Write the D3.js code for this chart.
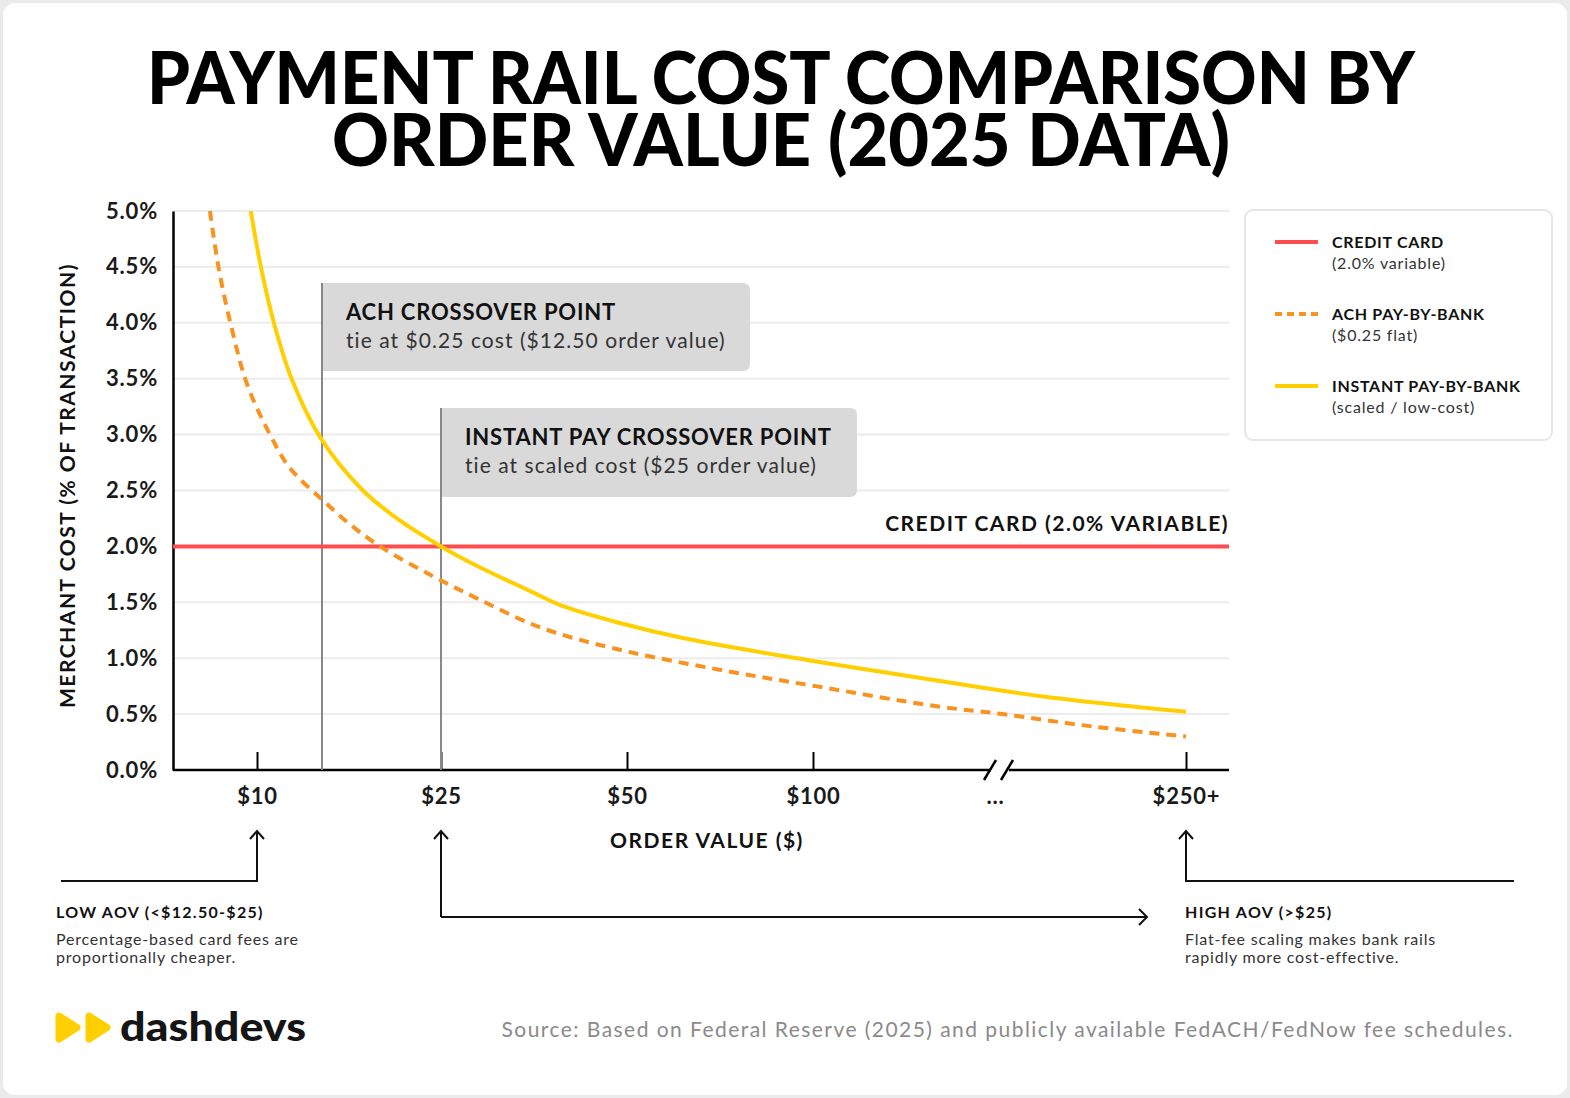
<!DOCTYPE html>
<html lang="en">
<head>
<meta charset="UTF-8">
<title>Payment Rail Cost Comparison by Order Value</title>
<style>
  html, body { margin: 0; padding: 0; background: #ebebeb; }
  svg { display: block; }
</style>
<script src="https://d3js.org/d3.v7.min.js"></script>
</head>
<body>
<script>
const WIDTH = 1570, HEIGHT = 1098;
const FONT = "Lato, 'Open Sans', sans-serif";

// order value ($) -> merchant cost (% of transaction)
const creditCardRate = 2.0;
const achOrderValues = [8.19, 8.54, 9.08, 9.62, 10.5, 11.27, 12.5, 15.4, 18.6, 24, 30, 37, 41.8, 50, 76, 101, 151, 178, 213, 250];
const achCost        = [5.0, 4.47, 3.9, 3.45, 3.0, 2.7, 2.42, 2.2, 2.0, 1.74, 1.53, 1.31, 1.2, 1.06, 0.89, 0.75, 0.57, 0.5, 0.39, 0.3];
const instantOrderValues = [9.76, 10.15, 10.65, 11.33, 12.5, 16.8, 20.7, 25, 30, 37, 41.2, 49.3, 65, 100, 151, 193, 250];
const instantCost        = [5.0, 4.5, 4.0, 3.5, 2.95, 2.5, 2.23, 2.0, 1.82, 1.6, 1.47, 1.31, 1.18, 0.975, 0.8, 0.66, 0.52];

const xTickValues = [10, 25, 50, 100, 175, 250];
const xTickLabels = ["$10", "$25", "$50", "$100", "...", "$250+"];
const yTickValues = [0, 0.5, 1, 1.5, 2, 2.5, 3, 3.5, 4, 4.5, 5];

const crossovers = [
  { value: 12.5, title: "ACH CROSSOVER POINT", sub: "tie at $0.25 cost ($12.50 order value)" },
  { value: 25, title: "INSTANT PAY CROSSOVER POINT", sub: "tie at scaled cost ($25 order value)" }
];

const legendNames = ["CREDIT CARD", "ACH PAY-BY-BANK", "INSTANT PAY-BY-BANK"];
const legendNotes = ["(2.0% variable)", "($0.25 flat)", "(scaled / low-cost)"];

const RED = "#ff4d4f", ORANGE = "#f7931e", YELLOW = "#ffcf00";
const legendColors = [RED, ORANGE, YELLOW];
const legendDash = [null, "7,5", null];

// plot box
const PLOT = { left: 173, right: 1229, top: 211, bottom: 770 };

// the order-value axis is not linear: evenly spaced ticks plus a break before $250+
const x = d3.scaleLinear()
  .domain([10, 12.5, 25, 50, 100, 175, 250])
  .range([257, 322, 441, 627, 813, 995, 1186]);
const y = d3.scaleLinear().domain([0, 5]).range([PLOT.bottom, PLOT.top]);

const svg = d3.select("body").append("svg")
  .attr("width", WIDTH)
  .attr("height", HEIGHT)
  .style("font-family", FONT);

svg.append("rect")
  .attr("x", 3).attr("y", 3)
  .attr("width", WIDTH - 6).attr("height", HEIGHT - 6)
  .attr("rx", 12)
  .attr("fill", "#fff");

// title
const titleLines = ["PAYMENT RAIL COST COMPARISON BY", "ORDER VALUE (2025 DATA)"];
const titleWidths = [1268, 898];
svg.selectAll("text.title")
  .data(titleLines)
  .enter().append("text")
  .attr("class", "title")
  .attr("x", 781)
  .attr("y", (d, i) => 104 + i * 62)
  .attr("text-anchor", "middle")
  .attr("font-size", 72)
  .attr("font-weight", 900)
  .attr("fill", "#000")
  .attr("textLength", (d, i) => titleWidths[i])
  .attr("lengthAdjust", "spacingAndGlyphs")
  .text(d => d);

// gridlines
svg.append("g")
  .selectAll("line")
  .data(yTickValues.filter(d => d > 0))
  .enter().append("line")
  .attr("x1", PLOT.left).attr("x2", PLOT.right)
  .attr("y1", d => y(d)).attr("y2", d => y(d))
  .attr("stroke", "#ececec")
  .attr("stroke-width", 2);

// y axis
const yAxis = svg.append("g")
  .attr("transform", `translate(${PLOT.left},0)`)
  .call(d3.axisLeft(y)
    .tickValues(yTickValues)
    .tickFormat(d => d.toFixed(1) + "%")
    .tickSizeInner(0)
    .tickSizeOuter(0)
    .tickPadding(15));
yAxis.select(".domain").attr("stroke", "#000").attr("stroke-width", 2.5);
yAxis.selectAll("text")
  .attr("font-family", FONT)
  .attr("font-size", 22)
  .attr("font-weight", 700)
  .attr("letter-spacing", 0.8)
  .attr("fill", "#1a1a1a");

// x axis
const xAxis = svg.append("g")
  .attr("transform", `translate(0,${PLOT.bottom})`)
  .call(d3.axisBottom(x)
    .tickValues(xTickValues)
    .tickFormat((d, i) => xTickLabels[i])
    .tickSizeInner(-18)
    .tickSizeOuter(0)
    .tickPadding(18));
xAxis.select(".domain").remove();
xAxis.selectAll(".tick line")
  .attr("stroke", "#000")
  .attr("stroke-width", 2)
  .attr("display", d => d === 175 ? "none" : null);
xAxis.selectAll("text")
  .attr("font-family", FONT)
  .attr("font-size", 22)
  .attr("font-weight", 700)
  .attr("letter-spacing", 0.8)
  .attr("fill", "#1a1a1a");

// x axis line with a break mark
const breakX = x(175);
const axisLine = svg.append("g").attr("stroke", "#000").attr("stroke-width", 2.5);
axisLine.append("line")
  .attr("x1", PLOT.left).attr("x2", breakX - 4)
  .attr("y1", PLOT.bottom).attr("y2", PLOT.bottom);
axisLine.append("line")
  .attr("x1", breakX + 14).attr("x2", PLOT.right)
  .attr("y1", PLOT.bottom).attr("y2", PLOT.bottom);
[-5, 12].forEach(dx => {
  axisLine.append("line")
    .attr("x1", breakX + dx - 6).attr("y1", PLOT.bottom + 10)
    .attr("x2", breakX + dx + 6).attr("y2", PLOT.bottom - 10);
});

// axis titles
svg.append("text")
  .attr("x", 707).attr("y", 848)
  .attr("text-anchor", "middle")
  .attr("font-size", 21).attr("font-weight", 700)
  .attr("letter-spacing", 1.5)
  .attr("fill", "#111")
  .text("ORDER VALUE ($)");
svg.append("text")
  .attr("transform", `translate(75,${(PLOT.top + PLOT.bottom) / 2 - 5}) rotate(-90)`)
  .attr("text-anchor", "middle")
  .attr("font-size", 21).attr("font-weight", 700)
  .attr("letter-spacing", 1.5)
  .attr("fill", "#111")
  .text("MERCHANT COST (% OF TRANSACTION)");

// crossover markers
const boxGeom = [
  { top: 283, h: 88, w: 428 },
  { top: 408, h: 89, w: 416 }
];
const cross = svg.append("g");
crossovers.forEach((c, i) => {
  const g = boxGeom[i];
  const x0 = x(c.value), r = 7;
  cross.append("path")
    .attr("d", `M${x0},${g.top} H${x0 + g.w - r} Q${x0 + g.w},${g.top} ${x0 + g.w},${g.top + r}
      V${g.top + g.h - r} Q${x0 + g.w},${g.top + g.h} ${x0 + g.w - r},${g.top + g.h} H${x0} Z`)
    .attr("fill", "#d9d9d9");
  cross.append("line")
    .attr("x1", x0).attr("x2", x0)
    .attr("y1", g.top).attr("y2", PLOT.bottom)
    .attr("stroke", "#888").attr("stroke-width", 2);
  cross.append("text")
    .attr("x", x0 + 24).attr("y", g.top + 37)
    .attr("font-size", 22).attr("font-weight", 700)
    .attr("letter-spacing", 0.8)
    .attr("fill", "#111")
    .text(c.title);
  cross.append("text")
    .attr("x", x0 + 24).attr("y", g.top + 65)
    .attr("font-size", 21)
    .attr("letter-spacing", 1.05)
    .attr("fill", "#333")
    .text(c.sub);
});

// series
const line = d3.line()
  .x(d => x(d[0]))
  .y(d => y(d[1]))
  .curve(d3.curveCatmullRom.alpha(0.5));

svg.append("line")
  .attr("x1", PLOT.left).attr("x2", PLOT.right)
  .attr("y1", y(creditCardRate)).attr("y2", y(creditCardRate))
  .attr("stroke", RED).attr("stroke-width", 4);

svg.append("path")
  .datum(d3.zip(achOrderValues, achCost))
  .attr("d", line)
  .attr("fill", "none")
  .attr("stroke", ORANGE)
  .attr("stroke-width", 4)
  .attr("stroke-dasharray", "10,7");

svg.append("path")
  .datum(d3.zip(instantOrderValues, instantCost))
  .attr("d", line)
  .attr("fill", "none")
  .attr("stroke", YELLOW)
  .attr("stroke-width", 4);

svg.append("text")
  .attr("x", PLOT.right).attr("y", y(creditCardRate) - 15)
  .attr("text-anchor", "end")
  .attr("font-size", 21).attr("font-weight", 700)
  .attr("letter-spacing", 1.5)
  .attr("fill", "#111")
  .text("CREDIT CARD (2.0% VARIABLE)");

// legend
const legend = svg.append("g").attr("transform", "translate(1245,210)");
legend.append("rect")
  .attr("width", 307).attr("height", 230).attr("rx", 8)
  .attr("fill", "#fff").attr("stroke", "#e6e6e6").attr("stroke-width", 2);
const items = legend.selectAll("g.item")
  .data(legendNames)
  .enter().append("g")
  .attr("transform", (d, i) => `translate(0,${32 + i * 72})`);
items.append("line")
  .attr("x1", 30).attr("x2", 73)
  .attr("stroke", (d, i) => legendColors[i])
  .attr("stroke-width", 4)
  .attr("stroke-dasharray", (d, i) => legendDash[i]);
items.append("text")
  .attr("x", 87).attr("y", 6)
  .attr("font-size", 16).attr("font-weight", 700)
  .attr("letter-spacing", 0.7)
  .attr("fill", "#111")
  .text(d => d);
items.append("text")
  .attr("x", 87).attr("y", 27)
  .attr("font-size", 16)
  .attr("letter-spacing", 0.8)
  .attr("fill", "#333")
  .text((d, i) => legendNotes[i]);

// bottom annotations
const arrows = svg.append("g")
  .attr("fill", "none").attr("stroke", "#111").attr("stroke-width", 2);
const upHead = (px, py) => `M${px - 7},${py + 8} L${px},${py} L${px + 7},${py + 8}`;
arrows.append("path").attr("d", `M61,881 H${x(10)} V831 ` + upHead(x(10), 831));
arrows.append("path").attr("d", `M1514,881 H${x(250)} V831 ` + upHead(x(250), 831));
arrows.append("path").attr("d", `M${x(25)},917 V831 ${upHead(x(25), 831)} M${x(25)},917 H1147 M1139,909 L1147,917 L1139,925`);

const notes = [
  { x: 56, title: "LOW AOV (<$12.50-$25)", lines: ["Percentage-based card fees are", "proportionally cheaper."] },
  { x: 1185, title: "HIGH AOV (>$25)", lines: ["Flat-fee scaling makes bank rails", "rapidly more cost-effective."] }
];
notes.forEach(n => {
  svg.append("text")
    .attr("x", n.x).attr("y", 918)
    .attr("font-size", 16).attr("font-weight", 700)
    .attr("letter-spacing", 1.3)
    .attr("fill", "#111")
    .text(n.title);
  n.lines.forEach((l, i) => {
    svg.append("text")
      .attr("x", n.x).attr("y", 945 + i * 18)
      .attr("font-size", 16)
      .attr("letter-spacing", 0.8)
      .attr("fill", "#333")
      .text(l);
  });
});

// logo
const logo = svg.append("g");
[0, 30].forEach(dx => {
  logo.append("path")
    .attr("d", `M${59 + dx},1016 L${77 + dx},1027.5 L${59 + dx},1039 Z`)
    .attr("fill", YELLOW).attr("stroke", YELLOW)
    .attr("stroke-width", 7).attr("stroke-linejoin", "round");
});
logo.append("text")
  .attr("x", 120).attr("y", 1041)
  .attr("font-size", 40).attr("font-weight", 900)
  .attr("fill", "#151515")
  .attr("textLength", 186)
  .attr("lengthAdjust", "spacingAndGlyphs")
  .text("dashdevs");

svg.append("text")
  .attr("x", 1514).attr("y", 1037)
  .attr("text-anchor", "end")
  .attr("font-size", 21)
  .attr("letter-spacing", 1.45)
  .attr("fill", "#8a8a8a")
  .text("Source: Based on Federal Reserve (2025) and publicly available FedACH/FedNow fee schedules.");
</script>
</body>
</html>
